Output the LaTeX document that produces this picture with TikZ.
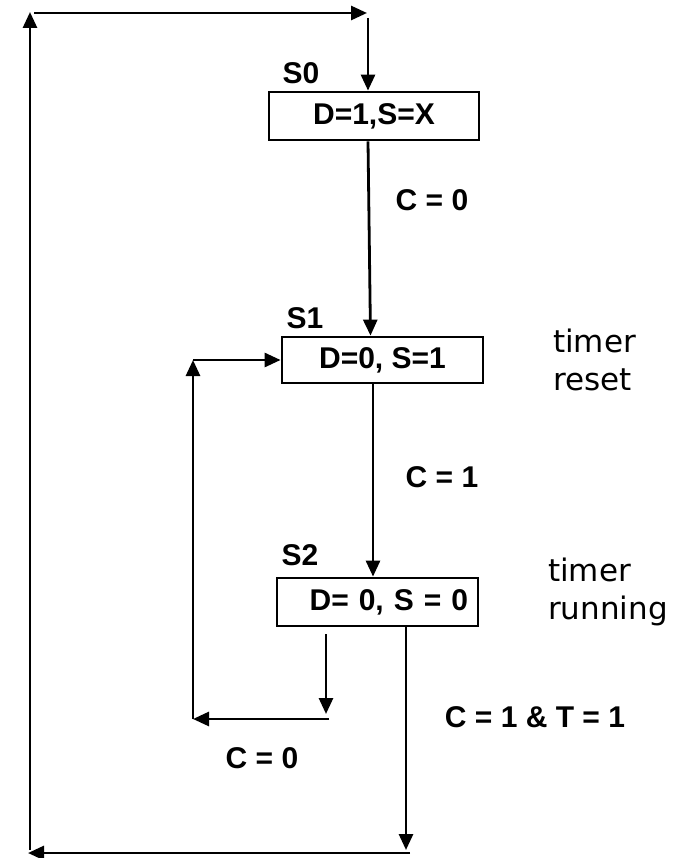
\documentclass[tikz,border=0pt]{standalone}
\usepackage{fontspec}
\setmainfont{Liberation Sans}
\newfontfamily\notefont{DejaVu Sans}
\usetikzlibrary{arrows.meta}
\newcommand\lblfont{\bfseries\fontsize{30}{36}\selectfont}

\begin{document}
\begin{tikzpicture}[x=1pt,y=-1pt,
  state/.style={draw,line width=2.8pt,minimum width=201pt,minimum height=47pt,inner sep=0pt,font=\lblfont},
  lbl/.style={inner sep=0pt,font=\lblfont},
  note/.style={inner sep=0pt,anchor=north west,align=left,font=\notefont\fontsize{31}{38}\selectfont},
  flow/.style={line width=2.8pt,-{Triangle[length=16pt,width=14pt]}}]
  \useasboundingbox (0,0) rectangle (685,858);

  % states
  \node[state,minimum width=210pt,minimum height=48pt] (s0) at (374,116) {D=1,S=X};
  \node[state,minimum height=46pt] (s1) at (382.5,360) {D=0, S=1};
  \node[state,minimum height=48pt,text width=181pt,inner xsep=10pt,align=right] (s2) at (377.5,602) {D= 0, S = 0};
  \node[lbl] (n0) at (301,73) {S0};
  \node[lbl] (n1) at (305,318) {S1};
  \node[lbl] (n2) at (300,555) {S2};

  % conditions and notes
  \node[lbl] (c0) at (432,200) {C = 0};
  \node[lbl] (c1) at (442,477) {C = 1};
  \node[lbl] (c2) at (535,717) {C = 1 \& T = 1};
  \node[lbl] (c3) at (262,758) {C = 0};
  \node[note] (t1) at (553,329) {timer\\reset};
  \node[note] (t2) at (548,558) {timer\\running};

  % loose ends of the wires
  \coordinate (in0) at (368,18);
  \coordinate (tl) at (34,13);
  \coordinate (tr) at (367,13);
  \coordinate (lt) at (30,12);
  \coordinate (lb) at (30,850);
  \coordinate (bl) at (28,853);
  \coordinate (br) at (410,853);
  \coordinate (rb) at (406,850);
  \coordinate (d1) at (326,714);
  \coordinate (h1) at (329,719);
  \coordinate (h2) at (193,719);

  \draw[flow] (in0) -- (in0 |- s0.north);
  \draw[flow] ([xshift=-6pt]s0.south) -- ([xshift=-12pt]s1.north);
  \draw[flow] ([xshift=-9.5pt]s1.south) -- ([xshift=-4.5pt]s2.north);
  \draw[flow] ([xshift=-51.5pt,yshift=-7pt]s2.south) -- (d1);
  \draw[flow] (h1) -- (h2);
  \draw[flow] (h2) -- (h2 |- s1.west);
  \draw[flow] (h2 |- s1.west) -- (s1.west);
  \draw[flow] ([xshift=28.5pt]s2.south) -- (rb);
  \draw[flow] (br) -- (bl);
  \draw[flow] (lb) -- (lt);
  \draw[flow] (tl) -- (tr);
\end{tikzpicture}
\end{document}
